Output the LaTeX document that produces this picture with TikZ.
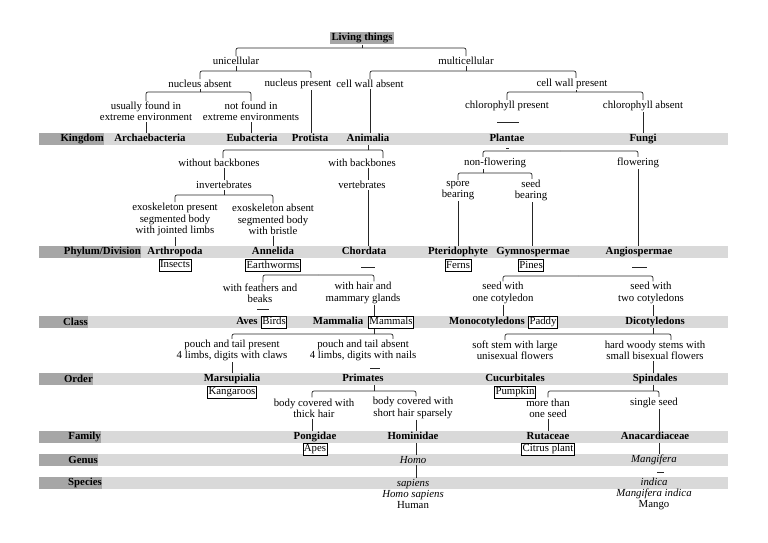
\documentclass[tikz,border=0pt]{standalone}
\usepackage{fontspec}
\setmainfont{Liberation Serif}
\usetikzlibrary{backgrounds}

\definecolor{bandlight}{RGB}{217,217,217}
\definecolor{banddark}{RGB}{166,166,166}

\begin{document}
\begin{tikzpicture}[x=1pt, y=-1pt,
    txt/.style={align=center, inner sep=1pt, font=\fontsize{10.8}{11.2}\selectfont},
    taxon/.style={inner sep=1pt, font=\fontsize{10.8}{11.2}\selectfont\bfseries,
                  text height=7.5pt, text depth=2.5pt},
    spbox/.style={draw, line width=0.6pt, fill=white, inner sep=1pt,
                  font=\fontsize{10.8}{11.2}\selectfont, text height=7.5pt, text depth=2.5pt},
    rank/.style={fill=banddark, anchor=east, align=right, inner sep=0pt,
                 minimum height=12pt, font=\fontsize{10.8}{11.2}\selectfont\bfseries},
    rootbox/.style={fill=banddark, inner sep=1.5pt,
                    font=\fontsize{10.8}{11.2}\selectfont\bfseries},
    link/.style={draw=black!85, line width=0.7pt, rounded corners=2pt},
    tick/.style={draw=black!85, line width=0.7pt},
]
\useasboundingbox (0,0) rectangle (768,543);

% ===== RANK BANDS =====
\foreach \nm/\yy/\xe in {Kingdom/139/104, {Phylum/Division}/252/141, Class/322/88,
    Order/379/93, Family/437/101, Genus/460/98, Species/483/102} {
  \begin{scope}[on background layer]
    \fill[bandlight] (39,\yy-6) rectangle (728,\yy+6);
  \end{scope}
  \pgfmathsetmacro{\tw}{\xe-39}
  \node[rank, text width=\tw pt] (rank\yy) at (\xe,\yy) {\nm};
}

% ===== TOP LEVELS =====
\node[rootbox] (living) at (362,38) {Living things};
\node[txt] (uni) at (236,61) {unicellular};
\node[txt] (multi) at (466,61) {multicellular};
\node[txt] (nabs) at (200,84) {nucleus absent};
\node[txt] (npres) at (298,84) {nucleus present};
\node[txt] (cwa) at (370,84) {cell wall absent};
\node[txt] (cwp) at (572,84) {cell wall present};
\node[txt] (usual) at (146,111.5) {usually found in\\extreme environment};
\node[txt] (notf) at (251,111.5) {not found in\\extreme environments};
\node[txt] (chlp) at (507,106) {chlorophyll present};
\node[txt] (chla) at (643,106) {chlorophyll absent};

% ===== KINGDOM =====
\node[taxon] (archae) at (150,139) {Archaebacteria};
\node[taxon] (eubac) at (252,139) {Eubacteria};
\node[taxon] (protis) at (310,139) {Protista};
\node[taxon] (anim) at (368,139) {Animalia};
\node[taxon] (plant) at (507,139) {Plantae};
\node[taxon] (fungi) at (643,139) {Fungi};

\node[txt] (wob) at (219,163) {without backbones};
\node[txt] (wb) at (362,163) {with backbones};
\node[txt] (nonfl) at (495,163) {non-flowering};
\node[txt] (flow) at (638,163) {flowering};
\node[txt] (invert) at (224,185) {invertebrates};
\node[txt] (vert) at (362,185) {vertebrates};
\node[txt] (spore) at (458,190.5) {spore\\bearing};
\node[txt] (seedb) at (531,190.5) {seed\\bearing};
\node[txt] (exop) at (175,219.5) {exoskeleton present\\segmented body\\with jointed limbs};
\node[txt] (exoa) at (273,219.5) {exoskeleton absent\\segmented body\\with bristle};

% ===== PHYLUM / DIVISION =====
\node[taxon] (arthro) at (175,252) {Arthropoda};
\node[taxon] (annel) at (273,252) {Annelida};
\node[taxon] (chord) at (364,252) {Chordata};
\node[taxon] (pterid) at (458,252) {Pteridophyte};
\node[taxon] (gymno) at (533,252) {Gymnospermae};
\node[taxon] (angio) at (639,252) {Angiospermae};
\node[spbox] (insects) at (175,265) {Insects};
\node[spbox] (earth) at (273,265.5) {Earthworms};
\node[spbox] (ferns) at (458,265.5) {Ferns};
\node[spbox] (pines) at (531,265.5) {Pines};

\node[txt] (feath) at (260,293) {with feathers and\\beaks};
\node[txt] (hair) at (363,293) {with hair and\\mammary glands};
\node[txt] (seed1) at (503,293) {seed with\\one cotyledon};
\node[txt] (seed2) at (651,293) {seed with\\two cotyledons};

% ===== CLASS =====
\node[taxon] (aves) at (247,322) {Aves};
\node[spbox] (birds) at (274,322) {Birds};
\node[taxon] (mammalia) at (338,322) {Mammalia};
\node[spbox] (mammals) at (391,322) {Mammals};
\node[taxon] (monocot) at (487,322) {Monocotyledons};
\node[spbox] (paddy) at (543,322) {Paddy};
\node[taxon] (dicot) at (655,322) {Dicotyledons};

\node[txt] (pouchp) at (232,350.5) {pouch and tail present\\4 limbs, digits with claws};
\node[txt] (poucha) at (363,350.5) {pouch and tail absent\\4 limbs, digits with nails};
\node[txt] (soft) at (515,350.5) {soft stem with large\\unisexual flowers};
\node[txt] (hard) at (655,350.5) {hard woody stems with\\small bisexual flowers};

% ===== ORDER =====
\node[taxon] (marsup) at (232,379) {Marsupialia};
\node[taxon] (primat) at (363,379) {Primates};
\node[taxon] (cucurb) at (515,379) {Cucurbitales};
\node[taxon] (spind) at (655,379) {Spindales};
\node[spbox] (kanga) at (232,392) {Kangaroos};
\node[spbox] (pumpk) at (515,392) {Pumpkin};

\node[txt] (thick) at (314,408) {body covered with\\thick hair};
\node[txt] (shorth) at (413,408) {body covered with\\short hair sparsely};
\node[txt] (more) at (548,408) {more than\\one seed};
\node[txt] (single) at (654,403) {single seed};

% ===== FAMILY / GENUS / SPECIES =====
\node[taxon] (pong) at (315,437) {Pongidae};
\node[taxon] (homin) at (413,437) {Hominidae};
\node[taxon] (rutac) at (548,437) {Rutaceae};
\node[taxon] (anac) at (655,437) {Anacardiaceae};
\node[spbox] (apes) at (315,449) {Apes};
\node[spbox] (citrus) at (548,449) {Citrus plant};
\node[txt] (homo) at (413,460) {\textit{Homo}};
\node[txt] (mangif) at (654,460) {\textit{Mangifera}};
\node[txt] (sapiens) at (413,494) {\textit{sapiens}\\\textit{Homo sapiens}\\Human};
\node[txt] (indica) at (654,494) {\textit{indica}\\\textit{Mangifera indica}\\Mango};

% ===== JUNCTIONS =====
\coordinate (jLiv) at (362,48);
\coordinate (jUni) at (236,71);
\coordinate (jMul) at (466,71);
\coordinate (jNab) at (200,92);
\coordinate (jCwp) at (576,92);
\coordinate (jAni) at (368,150);
\coordinate (jInv) at (224,195);
\coordinate (jChd) at (318,275);
\coordinate (jHai) at (374,334);
\coordinate (jPri) at (374,391);
\coordinate (jPla) at (560,151);
\coordinate (jNon) at (483,173);
\coordinate (jAng) at (578,276);
\coordinate (jDic) at (653,334);
\coordinate (jSpi) at (653,391);

% ===== CONNECTORS =====
\begin{scope}[on background layer]
% top
\draw[tick] (living) -- (jLiv);
\draw[link] (jLiv) -| (uni.north);
\draw[link] (jLiv) -| (multi.north);
\draw[tick] (uni) -- (jUni);
\draw[link] (jUni) -| (nabs.north);
\draw[link] (jUni) -| ([xshift=13]npres.north);
\draw[tick] (multi) -- (jMul);
\draw[link] (jMul) -| (cwa.north);
\draw[link] (jMul) -| ([xshift=4]cwp.north);
\draw[tick] (nabs) -- (jNab);
\draw[link] (jNab) -| (usual.north);
\draw[link] (jNab) -| (notf.north);
\draw[tick] ([xshift=4]cwp.south) -- (jCwp);
\draw[link] (jCwp) -| (chlp.north);
\draw[link] (jCwp) -| (chla.north);
\draw[tick] (usual.south) -- (usual.south |- archae.north);
\draw[tick] (notf.south) -- (notf.south |- eubac.north);
\draw[tick] ([xshift=13]npres.south) -- ([xshift=13]npres.south |- protis.north);
\draw[tick] (cwa.south) -- (cwa.south |- anim.north);
\draw[tick] (chla.south) -- (fungi.north);
\draw[tick] ([shift={(-10,16)}]chlp.center) -- ++(22,0);
\draw[tick] ([shift={(-1,9)}]plant.center) -- ++(3,0);

% animals
\draw[tick] (anim) -- (jAni);
\draw[link] (jAni) -| ([xshift=4]wob.north);
\draw[link] (jAni) -| ([xshift=21]wb.north);
\draw[tick] (invert.north) -- (invert.north |- wob.south);
\draw[tick] ([xshift=6]wb.south) -- ([xshift=6]vert.north);
\draw[tick] ([xshift=6]vert.south) -- ([xshift=6]vert.south |- chord.north);
\draw[tick] (invert) -- (jInv);
\draw[link] (jInv) -| (exop.north);
\draw[link] (jInv) -| (exoa.north);
\draw[tick] (exop.south) -- (arthro.north);
\draw[tick] (exoa.south) -- (annel.north);
\draw[tick] ([shift={(-3,15)}]chord.center) -- ++(14,0);
\draw[link] (jChd) -| ([xshift=3]feath.north);
\draw[link] (jChd) -| ([xshift=11]hair.north);
\draw[tick] ([shift={(-3,16)}]feath.center) -- ++(12,0);
\draw[tick] ([xshift=11]hair.south) -- (jHai);
\draw[link] (jHai) -| (pouchp.north);
\draw[link] (jHai) -| ([xshift=30]poucha.north);
\draw[tick] (pouchp.south) -- (marsup.north);
\draw[tick] ([shift={(7,17.5)}]poucha.center) -- ++(10,0);
\draw[tick] ([xshift=11]primat.south) -- (jPri);
\draw[link] (jPri) -| ([xshift=-2]thick.north);
\draw[link] (jPri) -| ([xshift=3]shorth.north);
\draw[tick] ([xshift=-2]thick.south) -- ([xshift=-2]thick.south |- pong.north);
\draw[tick] ([xshift=3]shorth.south) -- ([xshift=3]shorth.south |- homin.north);
\draw[tick] ([xshift=3]homin.south) -- ([xshift=3]homin.south |- homo.north);
\draw[tick] ([xshift=3]homo.south) -- ([xshift=3]homo.south |- sapiens.north);

% plants
\draw[link] (jPla) -| ([xshift=-12]nonfl.north);
\draw[link] (jPla) -| (flow.north);
\draw[tick] ([xshift=-12]nonfl.south) -- (jNon);
\draw[link] (jNon) -| (spore.north);
\draw[link] (jNon) -| ([xshift=1]seedb.north);
\draw[tick] (spore.south) -- (pterid.north);
\draw[tick] ([xshift=1]seedb.south) -- ([xshift=1]seedb.south |- gymno.north);
\draw[tick] (flow.south) -- (flow.south |- angio.north);
\draw[tick] ([shift={(-7,15)}]angio.center) -- ++(15,0);
\draw[link] (jAng) -| (seed1.north);
\draw[link] (jAng) -| ([xshift=2]seed2.north);
\draw[tick] (seed1.south) -- (seed1.south |- monocot.north);
\draw[tick] ([xshift=2]seed2.south) -- ([xshift=2]seed2.south |- dicot.north);
\draw[tick] ([xshift=-2]dicot.south) -- (jDic);
\draw[link] (jDic) -| ([xshift=-10]soft.north);
\draw[link] (jDic) -| ([xshift=16]hard.north);
\draw[tick] ([xshift=-2]hard.south) -- ([xshift=-2]hard.south |- spind.north);
\draw[tick] ([xshift=-2]spind.south) -- (jSpi);
\draw[link] (jSpi) -| (more.north);
\draw[link] (jSpi) -| ([xshift=5]single.north);
\draw[tick] (more.south) -- (rutac.north);
\draw[tick] ([xshift=5]single.south) -- ([xshift=5]single.south |- anac.north);
\draw[tick] ([xshift=4]anac.south) -- ([xshift=4]anac.south |- mangif.north);
\draw[tick] ([shift={(3,12)}]mangif.center) -- ++(7,0);
\end{scope}

\end{tikzpicture}
\end{document}
